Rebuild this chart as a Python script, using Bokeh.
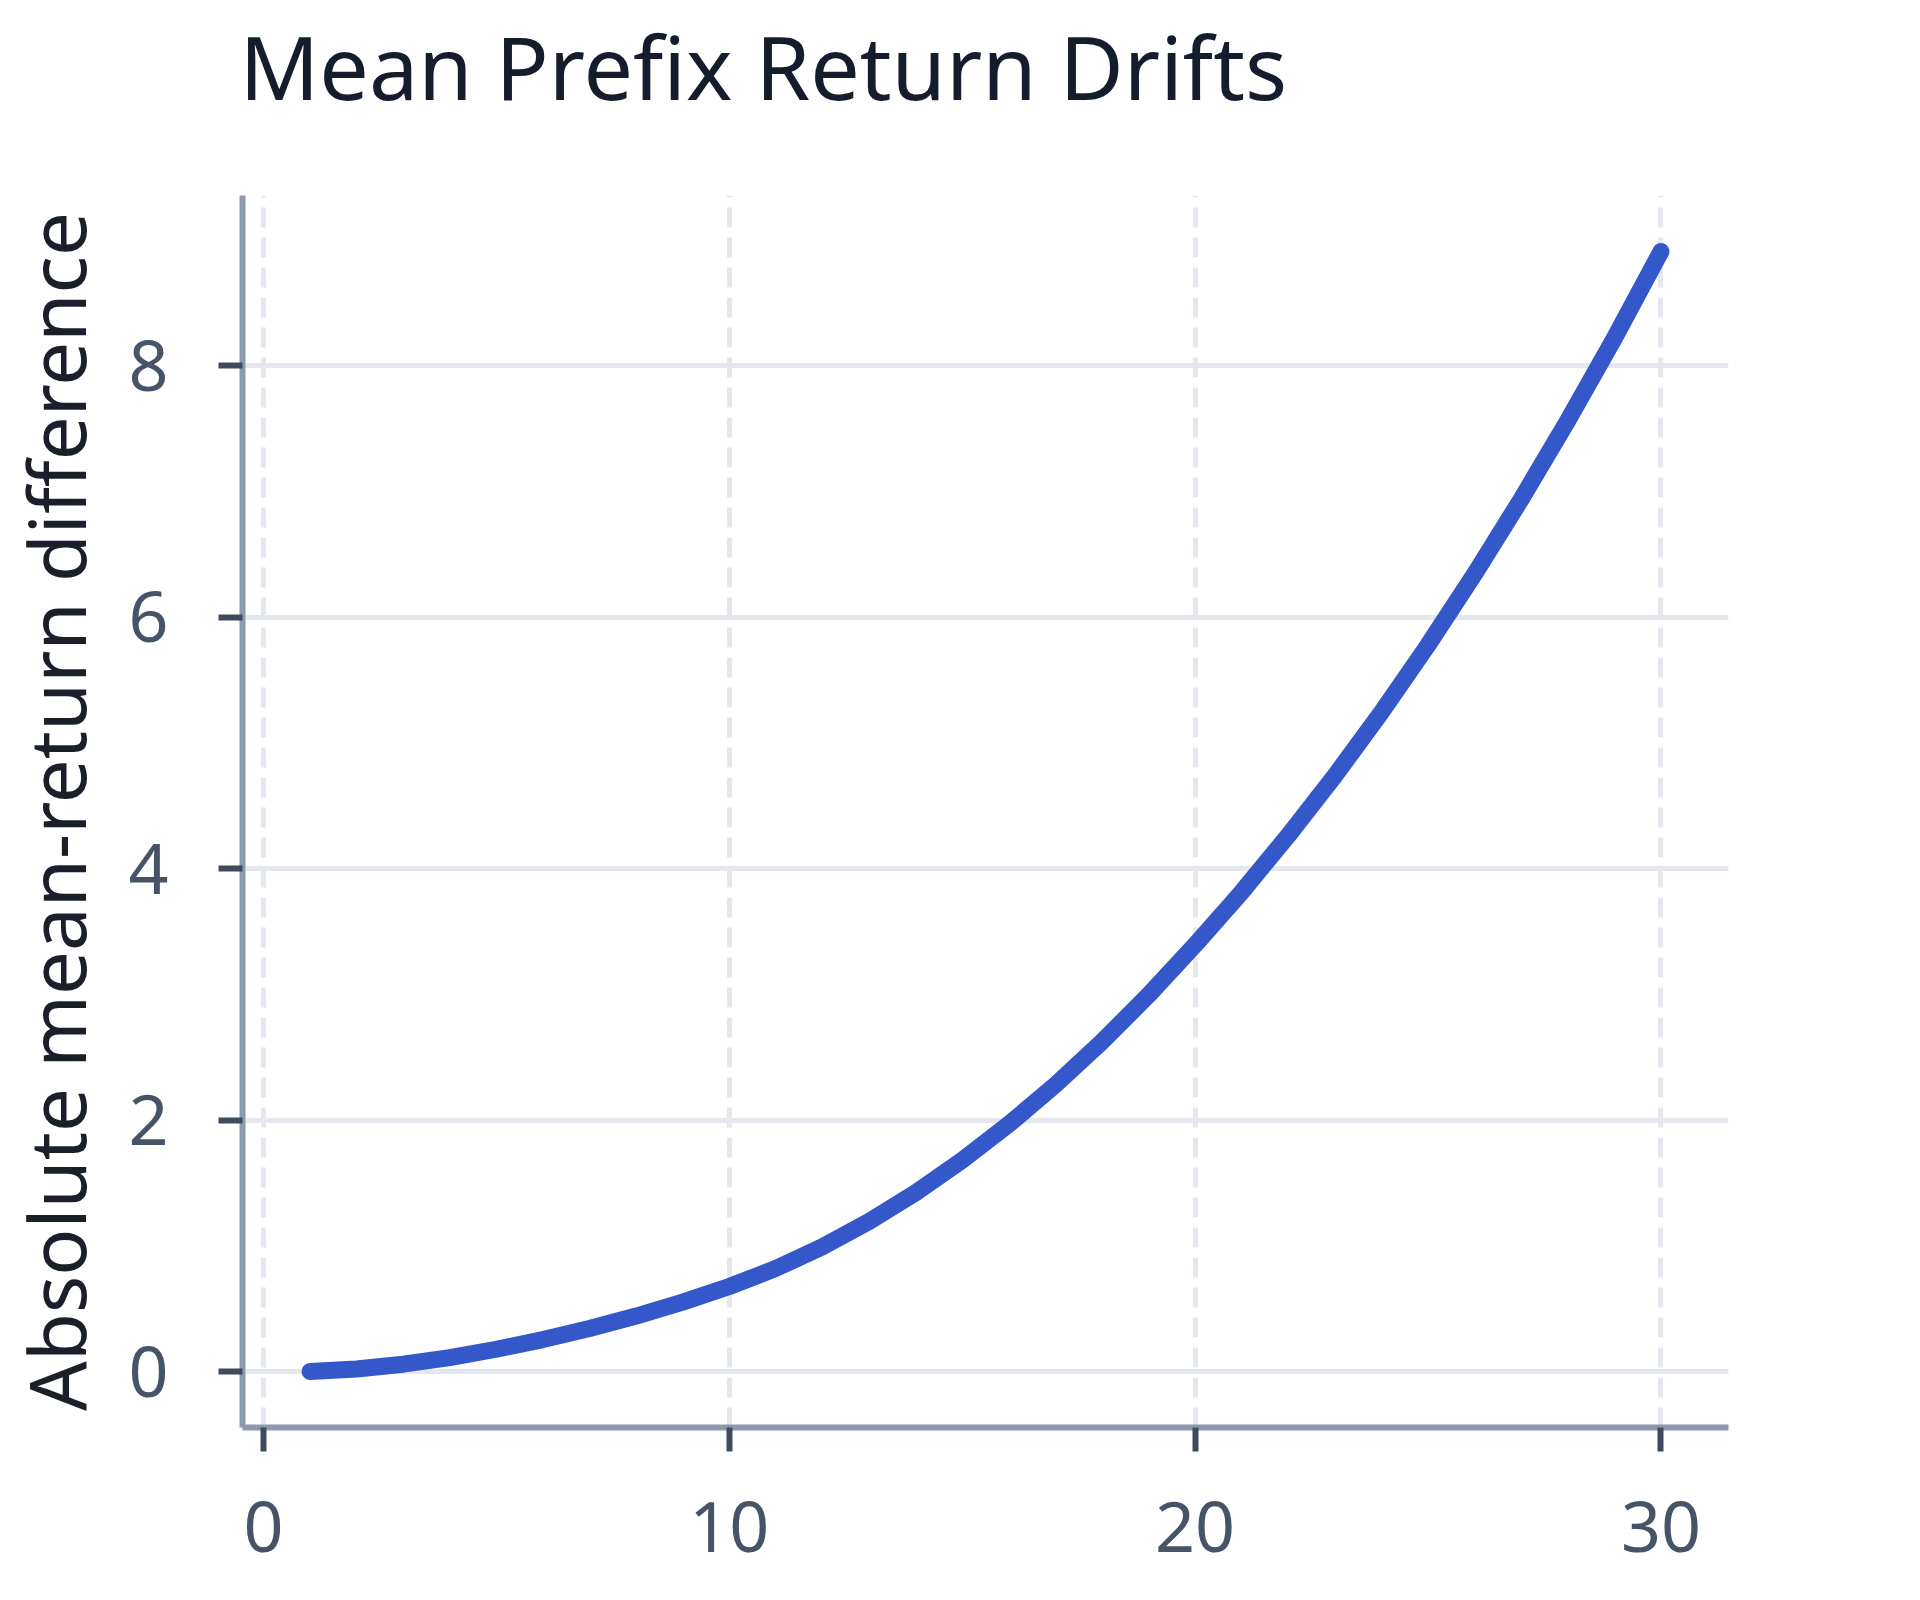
from bokeh.plotting import figure
from bokeh.models import Range1d, FixedTicker, Title
from bokeh.embed import file_html
from bokeh.resources import INLINE

# ---- data ----
steps = list(range(1, 31))
drift = [0.000, 0.020, 0.058, 0.111, 0.177, 0.254, 0.342, 0.441, 0.552, 0.676,
         0.820, 0.992, 1.193, 1.422, 1.680, 1.966, 2.280, 2.623, 2.994, 3.394,
         3.814, 4.264, 4.739, 5.244, 5.779, 6.344, 6.939, 7.564, 8.219, 8.909]
x_ticks = [0, 10, 20, 30]
y_ticks = [0, 2, 4, 6, 8]
title_text = "Mean Prefix Return Drifts"
y_label_text = "Absolute mean-return difference"

FONT = "Noto Sans"
LINE_COLOR = "#3457c9"
GRID_COLOR = "#e4e7ed"
AXIS_COLOR = "#8d99ae"
TICK_COLOR = "#3f4a5c"
LABEL_COLOR = "#475467"

def padded(vals, frac=0.05):
    lo, hi = min(vals), max(vals)
    pad = (hi - lo) * frac
    return lo - pad, hi + pad

xs, xe = padded(steps)
ys, ye = padded(drift)

W, H = 1880, 1580
p = figure(width=W, height=H, output_backend="svg", toolbar_location=None,
           x_range=Range1d(xs, xe), y_range=Range1d(ys, ye),
           min_border_left=242, min_border_right=W - 1728, min_border_top=195,
           min_border_bottom=H - 1427, title=None)

p.outline_line_color = None
p.background_fill_color = "white"
p.border_fill_color = "white"

# spacer panel between title and frame, then the title itself
spacer = Title(text=" ", text_font_size="10px", standoff=57)
p.add_layout(spacer, "above")
main_title = Title(text=title_text, text_font=FONT, text_font_size="88px",
                   text_font_style="normal", text_color="#151c2c",
                   align="left", offset=-3, standoff=0)
p.add_layout(main_title, "above")

for ax in (p.xaxis[0], p.yaxis[0]):
    ax.axis_line_color = AXIS_COLOR
    ax.axis_line_width = 6
    ax.major_tick_line_color = TICK_COLOR
    ax.major_tick_line_width = 6
    ax.major_tick_out = 24
    ax.major_tick_in = 0
    ax.minor_tick_line_color = None
    ax.major_label_text_font = FONT
    ax.major_label_text_font_size = "70px"
    ax.major_label_text_color = LABEL_COLOR

p.xaxis[0].ticker = FixedTicker(ticks=x_ticks)
p.yaxis[0].ticker = FixedTicker(ticks=y_ticks)
p.xaxis[0].major_label_standoff = 50
p.yaxis[0].major_label_standoff = 50

p.yaxis[0].axis_label = y_label_text
p.yaxis[0].axis_label_text_font = FONT
p.yaxis[0].axis_label_text_font_size = "78px"
p.yaxis[0].axis_label_text_font_style = "normal"
p.yaxis[0].axis_label_text_color = "#1b1f2a"
p.yaxis[0].axis_label_standoff = 16

p.xgrid.ticker = FixedTicker(ticks=x_ticks)
p.ygrid.ticker = FixedTicker(ticks=y_ticks)
p.xgrid.grid_line_color = GRID_COLOR
p.xgrid.grid_line_width = 5
p.xgrid.grid_line_dash = "20 10"
p.ygrid.grid_line_color = GRID_COLOR
p.ygrid.grid_line_width = 5

p.line(steps, drift, line_color=LINE_COLOR, line_width=17,
       line_cap="round", line_join="round")

open("out.html", "w").write(file_html(p, INLINE))
